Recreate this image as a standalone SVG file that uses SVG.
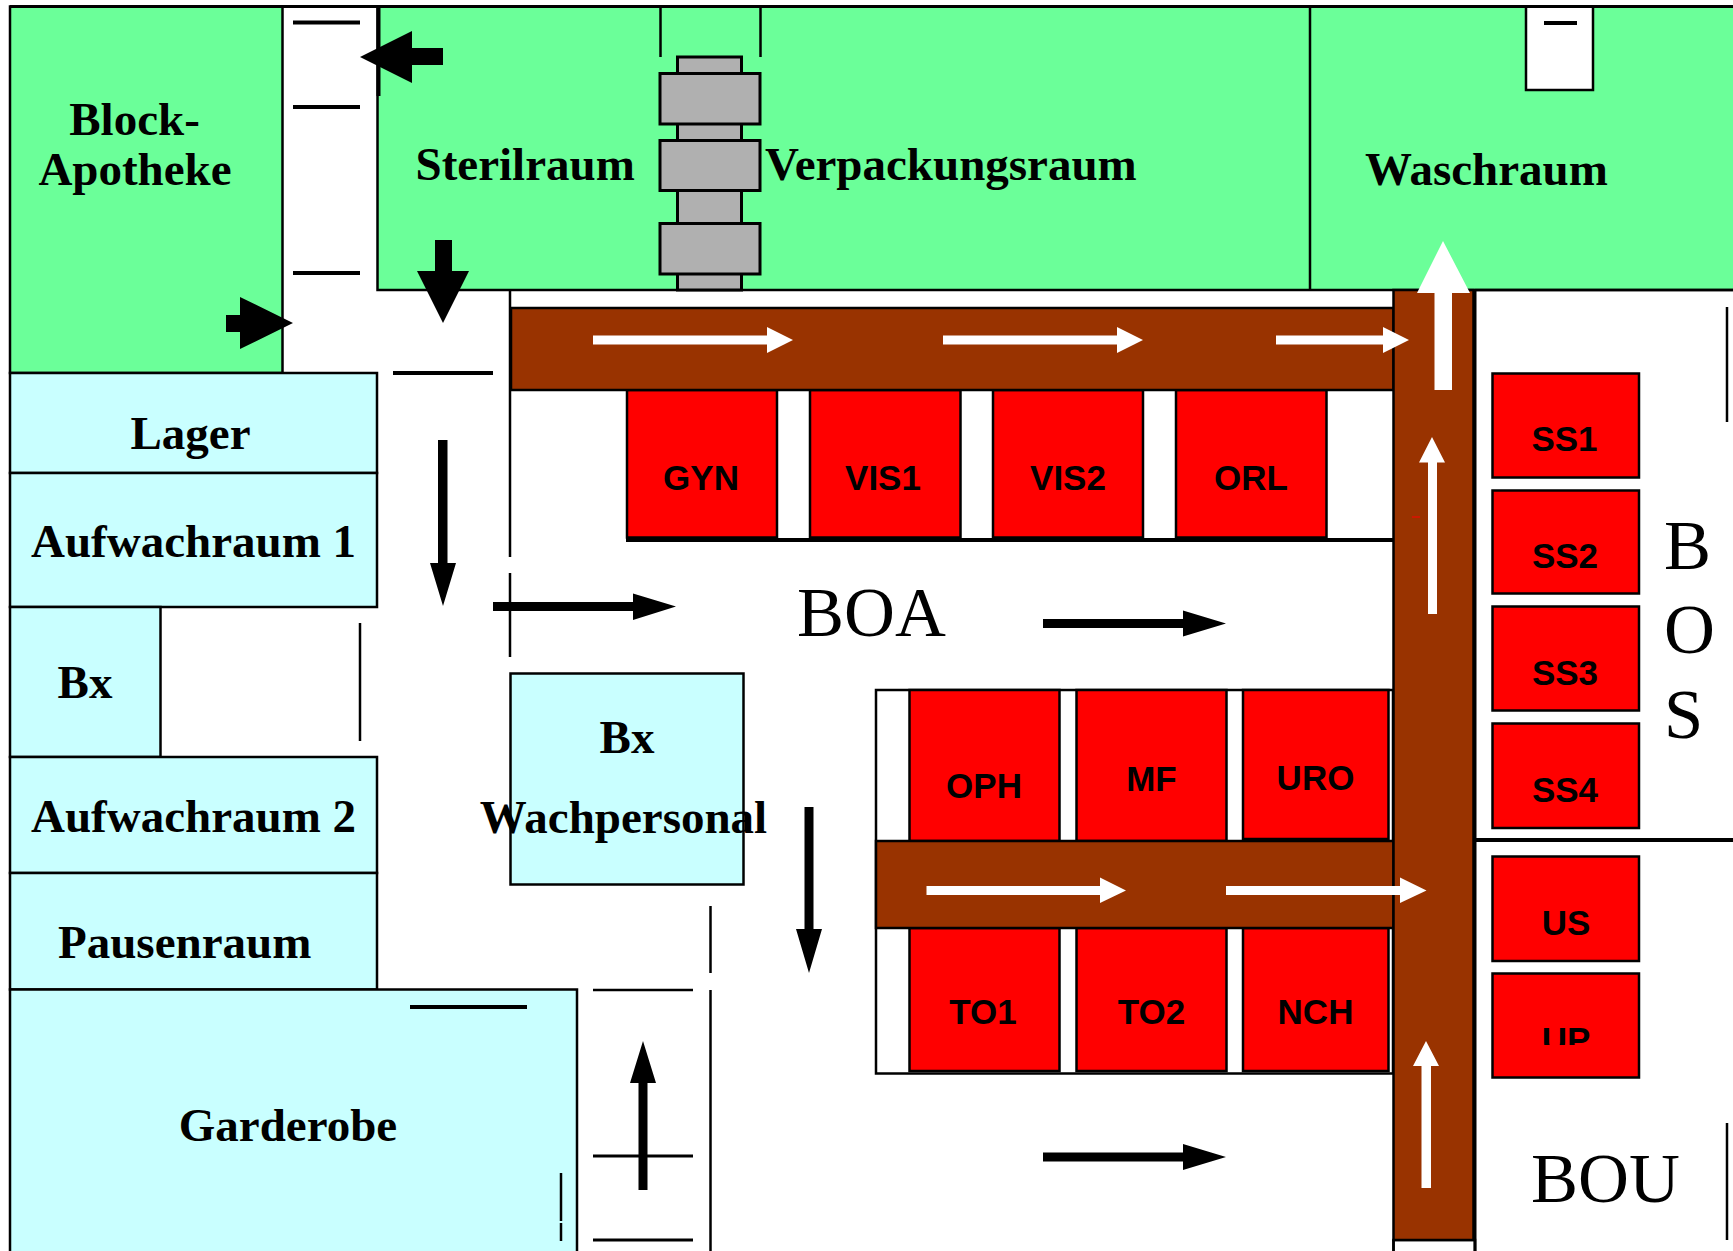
<svg xmlns="http://www.w3.org/2000/svg" width="1733" height="1251" viewBox="0 0 1733 1251">
<style>
.g{fill:#6bff99;stroke:#000;stroke-width:2.5}
.c{fill:#c9ffff;stroke:#000;stroke-width:2.5}
.r{fill:#f00;stroke:#000;stroke-width:2.5}
.b{fill:#993300;stroke:#000;stroke-width:2.5}
.w{fill:#fff;stroke:#000;stroke-width:2.5}
.p{fill:#b0b0b0;stroke:#000;stroke-width:3}
.l{stroke:#000;stroke-width:2.5;fill:none}
.t{stroke:#000;stroke-width:4;fill:none}
.ak{fill:#000}
.aw{fill:#fff}
text{fill:#000}
.n{font:bold 47px "Liberation Serif",serif}
.o{font:bold 35px "Liberation Sans",sans-serif;text-anchor:middle}
.z{font:70.500px "Liberation Serif",serif}
.m{text-anchor:middle}
</style>
<defs><clipPath id="upclip"><rect x="1492" y="973" width="147" height="72"/></clipPath></defs>
<rect width="1733" height="1251" fill="#fff"/>

<g id="green-band"><rect class="g" x="377.500" y="6.500" width="1360" height="283.500"/></g>
<g id="block-apotheke"><rect class="g" x="10" y="6.500" width="272.500" height="366.500"/><text class="n m" x="134.500" y="134.500">Block-</text><text class="n m" x="135" y="185">Apotheke</text></g>
<g id="sterilraum"><text class="n" x="415.500" y="180">Sterilraum</text></g>
<g id="verpackungsraum"><text class="n" x="765" y="180">Verpackungsraum</text></g>
<g id="waschraum"><line class="l" x1="1310" y1="6.500" x2="1310" y2="290"/><text class="n" x="1365" y="185">Waschraum</text></g>
<g id="schleuse"><rect class="w" x="1526" y="6.500" width="67" height="83.500"/><line class="t" x1="1544" y1="23" x2="1577" y2="23"/></g>
<g id="steriliser">
<line class="l" x1="660.500" y1="6.500" x2="660.500" y2="57"/><line class="l" x1="760.500" y1="6.500" x2="760.500" y2="57"/>
<rect class="p" x="677.500" y="57" width="64" height="233"/>
<rect class="p" x="660" y="73.500" width="100" height="50.500"/>
<rect class="p" x="660" y="140.500" width="100" height="50"/>
<rect class="p" x="660" y="223.500" width="100" height="50.500"/>
</g>

<g id="lager"><rect class="c" x="10" y="373" width="367" height="100"/><text class="n m" x="190.500" y="449">Lager</text></g>
<g id="aufwachraum-1"><rect class="c" x="10" y="473" width="367" height="134"/><text class="n" x="31" y="557">Aufwachraum 1</text></g>
<g id="bx-1"><rect class="c" x="10" y="607" width="150.500" height="150"/><text class="n m" x="85" y="698">Bx</text></g>
<g id="aufwachraum-2"><rect class="c" x="10" y="757" width="367" height="116"/><text class="n" x="31" y="832">Aufwachraum 2</text></g>
<g id="pausenraum"><rect class="c" x="10" y="873" width="367" height="116.500"/><text class="n" x="58" y="958">Pausenraum</text></g>
<g id="garderobe"><rect class="c" x="10" y="989.500" width="567" height="280"/><text class="n m" x="288" y="1141">Garderobe</text></g>
<g id="bx-wachpersonal"><rect class="c" x="510.500" y="673.500" width="233" height="211"/><text class="n m" x="627" y="753">Bx</text><text class="n m" x="623.500" y="833">Wachpersonal</text></g>

<g id="or-frame-lower"><rect class="w" x="876" y="690" width="517" height="383.500"/></g>
<g id="or-line-upper"><line class="t" x1="626" y1="540" x2="1393" y2="540"/></g>
<g id="gyn"><rect class="r" x="627" y="390" width="150" height="147.500"/><text class="o" x="701" y="489.500">GYN</text></g>
<g id="vis1"><rect class="r" x="810" y="390" width="150.500" height="147.500"/><text class="o" x="883" y="489.500">VIS1</text></g>
<g id="vis2"><rect class="r" x="993" y="390" width="150" height="147.500"/><text class="o" x="1068" y="489.500">VIS2</text></g>
<g id="orl"><rect class="r" x="1176" y="390" width="150.500" height="147.500"/><text class="o" x="1251" y="489.500">ORL</text></g>
<g id="oph"><rect class="r" x="909.500" y="690" width="150" height="151"/><text class="o" x="984" y="798">OPH</text></g>
<g id="mf"><rect class="r" x="1076.500" y="690" width="150" height="151"/><text class="o" x="1151.500" y="791">MF</text></g>
<g id="uro"><rect class="r" x="1243" y="690" width="145.500" height="149"/><text class="o" x="1315.500" y="790">URO</text></g>
<g id="to1"><rect class="r" x="909.500" y="928" width="150" height="143"/><text class="o" x="983" y="1024">TO1</text></g>
<g id="to2"><rect class="r" x="1076.500" y="928" width="150" height="143"/><text class="o" x="1151.500" y="1024">TO2</text></g>
<g id="nch"><rect class="r" x="1243" y="928" width="145.500" height="143"/><text class="o" x="1315.500" y="1024">NCH</text></g>

<g id="corridor-top"><rect class="b" x="511" y="308" width="882.500" height="82"/></g>
<g id="corridor-mid"><rect class="b" x="876" y="841" width="517.500" height="87"/></g>
<g id="corridor-right"><rect class="w" x="1393.500" y="1240" width="81.500" height="30"/><rect class="b" x="1393.500" y="290" width="80" height="950"/><line x1="1412" y1="517" x2="1420" y2="517" stroke="#f00" stroke-width="1"/></g>

<g id="ss1"><rect class="r" x="1492.500" y="373.500" width="146.500" height="104"/><text class="o" x="1564.500" y="451">SS1</text></g>
<g id="ss2"><rect class="r" x="1492.500" y="490.500" width="146.500" height="103"/><text class="o" x="1565" y="568">SS2</text></g>
<g id="ss3"><rect class="r" x="1492.500" y="606.500" width="146.500" height="104"/><text class="o" x="1565" y="685">SS3</text></g>
<g id="ss4"><rect class="r" x="1492.500" y="723.500" width="146.500" height="104.500"/><text class="o" x="1565" y="802">SS4</text></g>
<g id="us"><rect class="r" x="1492.500" y="856.500" width="146.500" height="104.500"/><text class="o" x="1566" y="934.500">US</text></g>
<g id="up"><rect class="r" x="1492.500" y="973.500" width="146.500" height="104"/><text class="o" x="1566" y="1052" clip-path="url(#upclip)">UP</text></g>

<g id="boa"><text class="z" x="797" y="636">BOA</text></g>
<g id="bos"><text class="z" x="1664" y="569">B</text><text class="z" x="1664" y="653">O</text><text class="z" x="1664" y="738">S</text></g>
<g id="bou"><text class="z" x="1531" y="1202">BOU</text></g>

<g id="walls">
<line class="t" x1="10" y1="6.500" x2="1733" y2="6.500" style="stroke-width:3"/>
<line class="t" x1="378.500" y1="6.500" x2="378.500" y2="96"/>
<line class="t" x1="293" y1="22.500" x2="360" y2="22.500"/>
<line class="t" x1="293" y1="107" x2="360" y2="107"/>
<line class="t" x1="293" y1="273" x2="360" y2="273"/>
<line class="t" x1="393" y1="373" x2="493" y2="373"/>
<line class="l" x1="510" y1="290" x2="510" y2="557"/>
<line class="l" x1="510" y1="573" x2="510" y2="657"/>
<line class="l" x1="360" y1="623" x2="360" y2="741"/>
<line class="t" x1="410" y1="1007" x2="527" y2="1007"/>
<line class="l" x1="561" y1="1173" x2="561" y2="1221"/>
<line class="l" x1="561" y1="1223" x2="561" y2="1241"/>
<line class="l" x1="710.500" y1="906" x2="710.500" y2="973"/>
<line class="l" x1="710.500" y1="990" x2="710.500" y2="1251"/>
<line class="l" x1="593" y1="990" x2="693" y2="990"/>
<line class="l" x1="593" y1="1156" x2="693" y2="1156" style="stroke-width:3"/>
<line class="l" x1="593" y1="1240" x2="693" y2="1240" style="stroke-width:3"/>
<line class="l" x1="1393.500" y1="1240" x2="1393.500" y2="1251"/>
<line class="t" x1="1475" y1="290" x2="1475" y2="1251" style="stroke-width:3"/>
<line class="t" x1="1475" y1="840" x2="1733" y2="840"/>
<line class="l" x1="1727" y1="307" x2="1727" y2="422"/>
<line class="l" x1="1727" y1="1123" x2="1727" y2="1240"/>
<line x1="1475" y1="290" x2="1733" y2="290" stroke="#000" stroke-width="2.5"/>
</g>

<g id="connectors">
<polygon class="ak" points="360,57 412,31 412,48 443,48 443,65 412,65 412,83"/>
<polygon class="ak" points="293,323 240,297 240,315 226,315 226,332 240,332 240,349"/>
<polygon class="ak" points="443,323 417,271 435,271 435,240 452,240 452,271 469,271"/>
<polygon class="ak" points="443,606 430,563 438,563 438,440 447.500,440 447.500,563 456,563"/>
<polygon class="ak" points="676,606.500 633,593.500 633,602 493,602 493,611 633,611 633,620"/>
<polygon class="ak" points="1226,623.500 1183,610.500 1183,619 1043,619 1043,628 1183,628 1183,636.500"/>
<polygon class="ak" points="1226,1157 1183,1144 1183,1152.500 1043,1152.500 1043,1161.500 1183,1161.500 1183,1170"/>
<polygon class="ak" points="809,973 796,929 804.500,929 804.500,807 813.500,807 813.500,929 822,929"/>
<polygon class="ak" points="643,1041 630,1083 638.500,1083 638.500,1190 647.500,1190 647.500,1083 656,1083"/>
<polygon class="aw" points="793,340 767,327 767,335.500 593,335.500 593,344.500 767,344.500 767,353"/>
<polygon class="aw" points="1143,340 1117,327 1117,335.500 943,335.500 943,344.500 1117,344.500 1117,353"/>
<polygon class="aw" points="1409,340 1383,327 1383,335.500 1276,335.500 1276,344.500 1383,344.500 1383,353"/>
<polygon class="aw" points="1443,241 1417,293 1434.500,293 1434.500,390 1452,390 1452,293 1470,293"/>
<polygon class="aw" points="1432,437 1419,462.500 1428,462.500 1428,614 1437,614 1437,462.500 1445,462.500"/>
<polygon class="aw" points="1126,890.500 1100,877.500 1100,886 926.500,886 926.500,895 1100,895 1100,903"/>
<polygon class="aw" points="1426.500,890.500 1400,877.500 1400,886 1226,886 1226,895 1400,895 1400,903"/>
<polygon class="aw" points="1426,1041 1413,1066 1421.500,1066 1421.500,1188 1431,1188 1431,1066 1439,1066"/>
</g>
</svg>
